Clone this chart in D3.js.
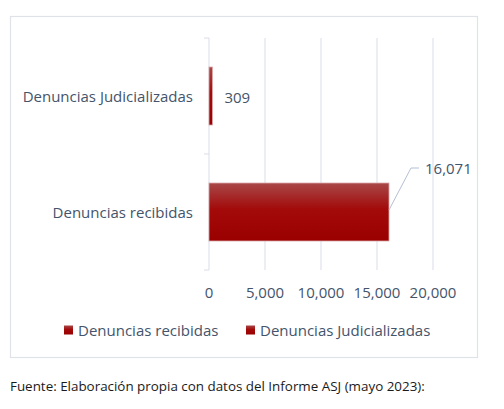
<!DOCTYPE html>
<html lang="es">
<head>
<meta charset="utf-8">
<title>Denuncias</title>
<style>
  body { margin: 0; background: #fff; }
  svg text { font-family: "Open Sans", sans-serif; }
</style>
</head>
<body>
<svg id="chart" width="504" height="409"></svg>
<script src="https://d3js.org/d3.v7.min.js"></script>
<script>
const categories = ["Denuncias Judicializadas", "Denuncias recibidas"];
const values = [309, 16071];
const tickValues = [0, 5000, 10000, 15000, 20000];
const legendLabels = ["Denuncias recibidas", "Denuncias Judicializadas"];
const source = "Fuente: Elaboración propia con datos del Informe ASJ (mayo 2023):";

const textColor = "#44546a";
const gridColor = "#d9dde6";

const svg = d3.select("#chart");

// gradient for the bars
const defs = svg.append("defs");
const grad = defs.append("linearGradient")
  .attr("id", "barGrad").attr("x1", 0).attr("y1", 0).attr("x2", 0).attr("y2", 1);
grad.append("stop").attr("offset", "0%").attr("stop-color", "#a84848");
grad.append("stop").attr("offset", "45%").attr("stop-color", "#a30a0a");
grad.append("stop").attr("offset", "100%").attr("stop-color", "#9a0000");

// outer frame
svg.append("rect")
  .attr("x", 10.5).attr("y", 16.5)
  .attr("width", 467).attr("height", 341)
  .attr("fill", "none").attr("stroke", "#dfe3e8").attr("stroke-width", 1.2);

const x = d3.scaleLinear().domain([0, 20000]).range([209, 433]);
const y = d3.scaleBand().domain(categories).range([38, 270])
  .paddingInner(0.5).paddingOuter(0.25);

// gridlines
svg.append("g")
  .selectAll("line")
  .data(tickValues.slice(1))
  .join("line")
  .attr("x1", d => x(d)).attr("x2", d => x(d))
  .attr("y1", 38).attr("y2", 270)
  .attr("stroke", gridColor).attr("stroke-width", 1);

// category axis line + ticks at band edges
svg.append("line")
  .attr("x1", x(0)).attr("x2", x(0)).attr("y1", 38).attr("y2", 270)
  .attr("stroke", gridColor);
const edges = [38, 154, 270];
svg.append("g").selectAll("line").data(edges).join("line")
  .attr("x1", x(0) - 5).attr("x2", x(0))
  .attr("y1", d => d).attr("y2", d => d)
  .attr("stroke", gridColor);

// category labels
svg.append("g").selectAll("text").data(categories).join("text")
  .attr("x", 193)
  .attr("y", d => y(d) + y.bandwidth() / 2)
  .attr("text-anchor", "end")
  .attr("dominant-baseline", "central")
  .attr("font-size", 15)
  .attr("fill", textColor)
  .text(d => d);

// bars
svg.append("g").selectAll("rect").data(values).join("rect")
  .attr("x", x(0))
  .attr("y", (d, i) => y(categories[i]))
  .attr("width", d => x(d) - x(0))
  .attr("height", y.bandwidth())
  .attr("fill", "url(#barGrad)")
  .attr("stroke", "#dba9a9").attr("stroke-width", 0.8);

// value labels
const fmt = d3.format(",");
// small bar: label to the right
svg.append("text")
  .attr("x", x(values[0]) + 12)
  .attr("y", y(categories[0]) + y.bandwidth() / 2 + 1)
  .attr("dominant-baseline", "central")
  .attr("font-size", 15)
  .attr("fill", textColor)
  .text(fmt(values[0]));

// big bar: label with leader line
const bx = x(values[1]), by = y(categories[1]) + y.bandwidth() / 2 - 2;
svg.append("polyline")
  .attr("points", [[bx, by], [bx + 22, by - 42], [bx + 30, by - 42]].map(p => p.join(",")).join(" "))
  .attr("fill", "none").attr("stroke", "#b4c0d2").attr("stroke-width", 1);
svg.append("text")
  .attr("x", bx + 36)
  .attr("y", by - 42)
  .attr("dominant-baseline", "central")
  .attr("font-size", 15)
  .attr("fill", textColor)
  .text(fmt(values[1]));

// value axis labels
svg.append("g").selectAll("text").data(tickValues).join("text")
  .attr("x", d => x(d))
  .attr("y", 292)
  .attr("text-anchor", "middle")
  .attr("dominant-baseline", "central")
  .attr("font-size", 15)
  .attr("fill", textColor)
  .text(d => fmt(d));

// legend
const legendX = [64, 246];
const lg = svg.append("g").selectAll("g").data(legendLabels).join("g")
  .attr("transform", (d, i) => `translate(${legendX[i]},330)`);
lg.append("rect")
  .attr("x", 0).attr("y", -4.5).attr("width", 9).attr("height", 9)
  .attr("fill", "url(#barGrad)");
lg.append("text")
  .attr("x", 14).attr("y", 0)
  .attr("dominant-baseline", "central")
  .attr("font-size", 15)
  .attr("fill", textColor)
  .text(d => d);

// source note
svg.append("text")
  .attr("x", 10).attr("y", 386)
  .attr("dominant-baseline", "central")
  .attr("font-size", 13.4)
  .attr("fill", "#1a1a1a")
  .text(source);
</script>
</body>
</html>
